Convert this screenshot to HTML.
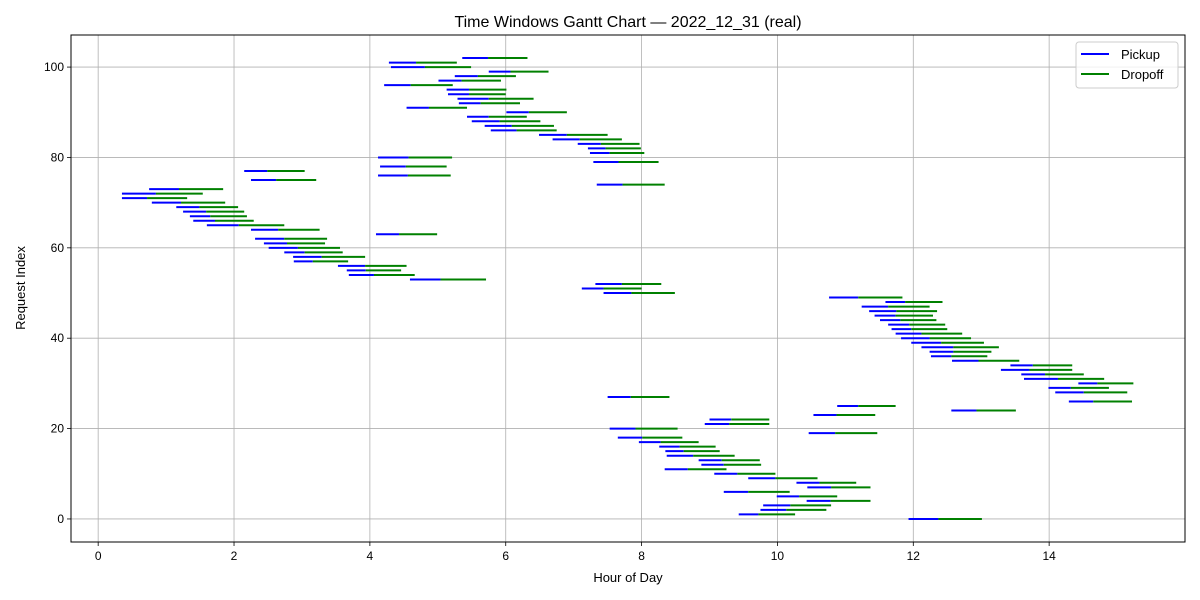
<!DOCTYPE html>
<html><head><meta charset="utf-8">
<style>
html,body{margin:0;padding:0;background:#fff;}
svg{display:block;font-family:"Liberation Sans","DejaVu Sans",sans-serif;}
</style></head>
<body>
<svg id="chart" width="1200" height="600" viewBox="0 0 1200 600">
  <rect x="0" y="0" width="1200" height="600" fill="#fff"/>
  <text x="628" y="27" font-size="16" text-anchor="middle">Time Windows Gantt Chart — 2022_12_31 (real)</text>
  <g id="grid"></g>
  <g id="marks"></g>
  <rect x="71" y="35" width="1114" height="507" fill="none" stroke="#000" stroke-width="1"/>
  <g id="ticks"></g>
  <text x="628" y="582" font-size="13" text-anchor="middle">Hour of Day</text>
  <text x="25" y="288" font-size="13" text-anchor="middle" transform="rotate(-90 25 288)">Request Index</text>
  <g>
    <rect x="1076" y="42" width="102" height="46" rx="3" fill="#fff" fill-opacity="0.8" stroke="#ccc"/>
    <line x1="1081" y1="54" x2="1109" y2="54" stroke="#0000ff" stroke-width="2"/>
    <text x="1121" y="59" font-size="13">Pickup</text>
    <line x1="1081" y1="74" x2="1109" y2="74" stroke="#008000" stroke-width="2"/>
    <text x="1121" y="79" font-size="13">Dropoff</text>
  </g>
</svg>
<script>
const pickupStart = [11.93,9.43,9.75,9.79,10.43,9.99,9.21,10.44,10.28,9.57,9.07,8.34,8.88,8.84,8.37,8.35,8.26,7.96,7.65,10.46,7.53,8.93,9.00,10.53,12.56,10.88,14.29,7.50,14.09,13.99,14.43,13.63,13.59,13.29,13.43,12.57,12.26,12.24,12.12,11.97,11.82,11.74,11.68,11.63,11.51,11.43,11.35,11.24,11.59,10.76,7.44,7.12,7.32,4.59,3.69,3.66,3.53,2.88,2.87,2.74,2.51,2.44,2.31,4.09,2.25,1.60,1.40,1.35,1.25,1.15,0.79,0.35,0.35,0.75,7.34,2.25,4.12,2.15,4.15,7.29,4.12,7.24,7.21,7.06,6.69,6.49,5.78,5.69,5.50,5.43,6.01,4.54,5.31,5.29,5.15,5.13,4.21,5.01,5.25,5.75,4.31,4.28,5.36];
const pickupEnd = [12.37,9.72,10.13,10.19,10.78,10.32,9.57,10.79,10.62,9.97,9.41,8.68,9.21,9.18,8.76,8.62,8.56,8.28,8.01,10.85,7.91,9.29,9.32,10.87,12.93,11.19,14.65,7.84,14.51,14.32,14.71,14.13,13.94,13.71,13.76,12.96,12.56,12.59,12.59,12.41,12.24,12.12,11.97,11.94,11.81,11.74,11.75,11.63,11.88,11.19,7.85,7.44,7.71,5.04,4.06,3.94,3.93,3.16,3.29,3.04,2.94,2.78,2.74,4.43,2.65,2.07,1.72,1.65,1.59,1.49,1.22,0.72,0.85,1.19,7.72,2.62,4.56,2.49,4.53,7.66,4.57,7.53,7.47,7.40,7.09,6.90,6.16,6.09,5.91,5.75,6.34,4.87,5.63,5.75,5.46,5.46,4.60,5.35,5.59,6.07,4.81,4.68,5.74];
const dropoffEnd = [13.01,10.26,10.72,10.79,11.37,10.88,10.18,11.37,11.16,10.59,9.97,9.25,9.76,9.74,9.37,9.15,9.09,8.84,8.60,11.47,8.53,9.88,9.88,11.44,13.51,11.74,15.22,8.41,15.15,14.88,15.24,14.81,14.51,14.34,14.34,13.56,13.09,13.15,13.26,13.04,12.85,12.72,12.50,12.47,12.34,12.29,12.35,12.24,12.43,11.84,8.49,8.00,8.29,5.71,4.66,4.46,4.54,3.68,3.93,3.60,3.56,3.34,3.37,4.99,3.26,2.74,2.29,2.19,2.15,2.06,1.87,1.31,1.54,1.84,8.34,3.21,5.19,3.04,5.13,8.25,5.21,8.04,7.99,7.97,7.71,7.50,6.75,6.71,6.51,6.31,6.90,5.43,6.21,6.41,6.00,6.01,5.22,5.93,6.15,6.63,5.49,5.28,6.32];
const xTicks = [0,2,4,6,8,10,12,14];
const yTicks = [0,20,40,60,80,100];

const NS = "http://www.w3.org/2000/svg";
const X0 = 71, X1 = 1185, Y0 = 542, Y1 = 35;
const xMin = -0.4, xMax = 16.0, yMin = -5.1, yMax = 107.1;
function xs(v){ return X0 + (v - xMin) / (xMax - xMin) * (X1 - X0); }
function ys(v){ return Y0 - (v - yMin) / (yMax - yMin) * (Y0 - Y1); }
function mk(tag, attrs, parent){
  const e = document.createElementNS(NS, tag);
  for (const k in attrs) e.setAttribute(k, attrs[k]);
  parent.appendChild(e);
  return e;
}
const grid = document.getElementById('grid');
const ticks = document.getElementById('ticks');
const marks = document.getElementById('marks');

xTicks.forEach(t => {
  const x = xs(t);
  const g = mk('line', {x1:x, y1:Y1, x2:x, y2:Y0, stroke:'#b0b0b0', 'stroke-width':0.8}, grid);
  
  
  const tk = mk('line', {x1:x, y1:Y0, x2:x, y2:Y0+4, stroke:'#000', 'stroke-width':0.8}, ticks);
  
  
  const lb = mk('text', {x:x, y:Y0+18, 'font-size':12, 'text-anchor':'middle'}, ticks);
  lb.textContent = t;
  
  
});
yTicks.forEach(t => {
  const y = ys(t);
  const g = mk('line', {x1:X0, y1:y, x2:X1, y2:y, stroke:'#b0b0b0', 'stroke-width':0.8}, grid);
  
  
  const tk = mk('line', {x1:X0-4, y1:y, x2:X0, y2:y, stroke:'#000', 'stroke-width':0.8}, ticks);
  
  
  const lb = mk('text', {x:X0-7, y:y+4, 'font-size':12, 'text-anchor':'end'}, ticks);
  lb.textContent = t;
  
  
});
for (let i = 0; i < pickupStart.length; i++) {
  const y = ys(i);
  const p = mk('line', {x1:xs(pickupStart[i]), y1:y, x2:xs(pickupEnd[i]), y2:y, stroke:'#0000ff', 'stroke-width':2}, marks);
  
  
  const d = mk('line', {x1:xs(pickupEnd[i]), y1:y, x2:xs(dropoffEnd[i]), y2:y, stroke:'#008000', 'stroke-width':2}, marks);
  
  
}
</script>
</body></html>
